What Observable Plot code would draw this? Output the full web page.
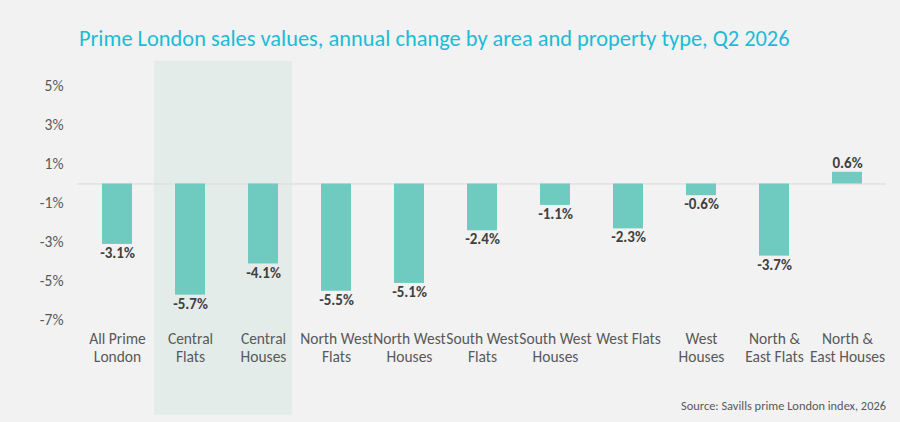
<!DOCTYPE html>
<html>
<head>
<meta charset="utf-8">
<script src="https://cdn.jsdelivr.net/npm/d3@7"></script>
<script src="https://cdn.jsdelivr.net/npm/@observablehq/plot@0.6"></script>
<style>
  html, body { margin: 0; padding: 0; background: #f2f2f2; }
  #wrap { position: relative; width: 900px; height: 422px; font-family: Carlito, Lato, "Open Sans", sans-serif; }
  #title { position: absolute; left: 79px; top: 25px; font-size: 22.4px; color: #1bbcd6; white-space: nowrap; }
  #source { position: absolute; right: 14px; top: 398px; font-size: 12.4px; color: #595959; white-space: nowrap; }
  #chart svg { display: block; }
</style>
</head>
<body>
<div id="wrap">
  <div id="chart"></div>
  <div id="title">Prime London sales values, annual change by area and property type, Q2 2026</div>
  <div id="source">Source: Savills prime London index, 2026</div>
</div>
<script>
const categories = ["All Prime London", "Central Flats", "Central Houses", "North West Flats", "North West Houses", "South West Flats", "South West Houses", "West Flats", "West Houses", "North & East Flats", "North & East Houses"];
const tickLabels = ["All Prime\nLondon", "Central\nFlats", "Central\nHouses", "North West\nFlats", "North West\nHouses", "South West\nFlats", "South West\nHouses", "West Flats", "West\nHouses", "North &\nEast Flats", "North &\nEast Houses"];
const values = [-3.1, -5.7, -4.1, -5.5, -5.1, -2.4, -1.1, -2.3, -0.6, -3.7, 0.6];
const yTicks = [5, 3, 1, -1, -3, -5, -7];
const shaded = ["Central Flats", "Central Houses"];

const data = categories.map((c, i) => ({category: c, value: values[i]}));
const labelOf = new Map(categories.map((c, i) => [c, tickLabels[i]]));
const yMax = 6.28, yMin = -7.5;
const font = "Carlito, Lato, 'Open Sans', sans-serif";

const chart = Plot.plot({
  width: 900,
  height: 422,
  marginTop: 61,
  marginBottom: 92.25,
  marginLeft: 77,
  marginRight: 14,
  style: {background: "transparent", fontFamily: font},
  x: {domain: categories, paddingInner: 0.59, paddingOuter: 0.295, label: null},
  y: {domain: [yMin, yMax], label: null},
  marks: [
    Plot.barY([shaded[0]], {x: d => d, y1: yMax, y2: yMin, fill: "#e4ecea", insetLeft: -21, insetRight: -22.5, insetBottom: -85}),
    Plot.barY([shaded[1]], {x: d => d, y1: yMax, y2: yMin, fill: "#e4ecea", insetLeft: -22.5, insetRight: -14, insetBottom: -85}),
    Plot.ruleY([0], {stroke: "#d9d9d9", strokeWidth: 1}),
    Plot.barY(data, {x: "category", y: "value", fill: "#6fcbbf"}),
    Plot.text(data.filter(d => d.value < 0), {x: "category", y: "value", text: d => d.value.toFixed(1) + "%", lineAnchor: "top", dy: 3, fontWeight: "bold", fontSize: 15, fill: "#404040"}),
    Plot.text(data.filter(d => d.value >= 0), {x: "category", y: "value", text: d => d.value.toFixed(1) + "%", lineAnchor: "bottom", dy: -4, fontWeight: "bold", fontSize: 15, fill: "#404040"}),
    Plot.axisY({ticks: yTicks, tickFormat: d => d + "%", tickSize: 0, tickPadding: 14, fontSize: 15.5, color: "#595959", label: null}),
    Plot.axisX({tickSize: 0, tickPadding: 1, fontSize: 15.5, lineHeight: 1.16, tickFormat: d => labelOf.get(d), color: "#595959", label: null})
  ]
});
document.getElementById("chart").appendChild(chart);
</script>
</body>
</html>
